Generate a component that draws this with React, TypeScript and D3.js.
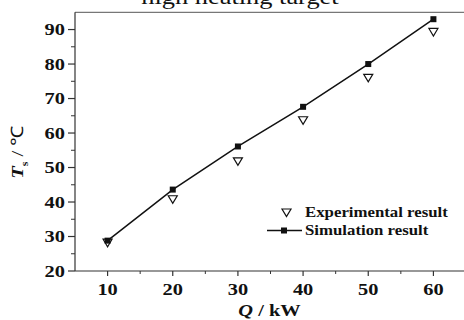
import * as d3 from 'd3';

const qValues = [10, 20, 30, 40, 50, 60];
const simulation = [28.8, 43.6, 56.1, 67.6, 80, 93];
const experimental = [28.2, 40.8, 51.8, 63.7, 76, 89.3];
const xTicks = [10, 20, 30, 40, 50, 60];
const xMinor = [15, 25, 35, 45, 55];
const yTicks = [20, 30, 40, 50, 60, 70, 80, 90];
const yMinor = [25, 35, 45, 55, 65, 75, 85];

const W = 464;
const H = 320;
const M = { top: 12.3, right: -2, bottom: 49, left: 75 };
const FONT = '"Liberation Serif", "Times New Roman", serif';
// the original figure is stretched sideways a little
const SX = 1.2;

const at = (x: number, y: number) => `translate(${x},${y}) scale(${SX},1)`;

export default function App() {
  const x = d3.scaleLinear().domain([5, 65]).range([M.left, W - M.right]);
  const y = d3.scaleLinear().domain([20, 95]).range([H - M.bottom, M.top]);
  const x0 = M.left;
  const y0 = H - M.bottom;

  const line = d3
    .line<number>()
    .x((_, i) => x(qValues[i]))
    .y((d) => y(d));

  const tri = (cx: number, cy: number) =>
    `M${cx - 4.5},${cy - 3.5}L${cx + 4.5},${cy - 3.5}L${cx},${cy + 4}Z`;

  return (
    <div style={{ position: 'fixed', left: 0, top: 0 }}>
      <svg width={W} height={H} style={{ display: 'block', background: '#fff' }} fontFamily={FONT}>
        {/* clipped title from the page above */}
        <text transform={at(240, 4)} textAnchor="middle" fontSize={22} fill="#111">
          high heating target
        </text>

        {/* frame */}
        <line x1={x0} y1={M.top} x2={W} y2={M.top} stroke="#777" strokeWidth={1.2} />
        <line x1={x0} y1={M.top} x2={x0} y2={y0} stroke="#333" strokeWidth={1.2} />
        <line x1={x0} y1={y0} x2={W} y2={y0} stroke="#333" strokeWidth={1.2} />

        {/* y ticks */}
        {yTicks.map((t) => (
          <g key={'y' + t}>
            <line x1={x0 - 7} x2={x0} y1={y(t)} y2={y(t)} stroke="#333" strokeWidth={1.2} />
            <text transform={at(x0 - 10, y(t) + 5.5)} textAnchor="end" fontSize={17} fontWeight={700} fill="#111">
              {t}
            </text>
          </g>
        ))}
        {yMinor.map((t) => (
          <line key={'ym' + t} x1={x0 - 4} x2={x0} y1={y(t)} y2={y(t)} stroke="#333" strokeWidth={1} />
        ))}

        {/* x ticks */}
        {xTicks.map((t) => (
          <g key={'x' + t}>
            <line x1={x(t)} x2={x(t)} y1={y0} y2={y0 + 5} stroke="#333" strokeWidth={1.2} />
            <text transform={at(x(t), y0 + 24)} textAnchor="middle" fontSize={17} fontWeight={700} fill="#111">
              {t}
            </text>
          </g>
        ))}
        {xMinor.map((t) => (
          <line key={'xm' + t} x1={x(t)} x2={x(t)} y1={y0} y2={y0 + 3} stroke="#333" strokeWidth={1} />
        ))}

        {/* axis titles */}
        <text transform={at((x0 + W) / 2, 316)} textAnchor="middle" fontSize={17} fontWeight={700} fill="#111">
          <tspan fontStyle="italic">Q</tspan> / kW
        </text>
        <text
          transform={`translate(23,152) rotate(-90) scale(${SX},1)`}
          textAnchor="middle"
          fontSize={17}
          fontWeight={700}
          fill="#111"
        >
          <tspan fontStyle="italic">T</tspan>
          <tspan fontSize={10} dy={5}>s</tspan>
          <tspan dy={-5} fontWeight={400}> / ℃</tspan>
        </text>

        {/* simulation line */}
        <path d={line(simulation) ?? ''} fill="none" stroke="#111" strokeWidth={1.5} />
        {simulation.map((v, i) => (
          <rect key={'s' + i} x={x(qValues[i]) - 3} y={y(v) - 3} width={6} height={6} fill="#111" />
        ))}

        {/* experimental points */}
        {experimental.map((v, i) => (
          <path key={'e' + i} d={tri(x(qValues[i]), y(v))} fill="none" stroke="#111" strokeWidth={1.2} />
        ))}

        {/* legend */}
        <path d={tri(286.5, 212.5)} fill="none" stroke="#111" strokeWidth={1.2} />
        <text transform={at(305, 217)} fontSize={14} fontWeight={700} fill="#111">
          Experimental result
        </text>
        <line x1={267} x2={302} y1={230.5} y2={230.5} stroke="#111" strokeWidth={1.5} />
        <rect x={281} y={227.5} width={6} height={6} fill="#111" />
        <text transform={at(305, 235)} fontSize={14} fontWeight={700} fill="#111">
          Simulation result
        </text>
      </svg>
    </div>
  );
}
